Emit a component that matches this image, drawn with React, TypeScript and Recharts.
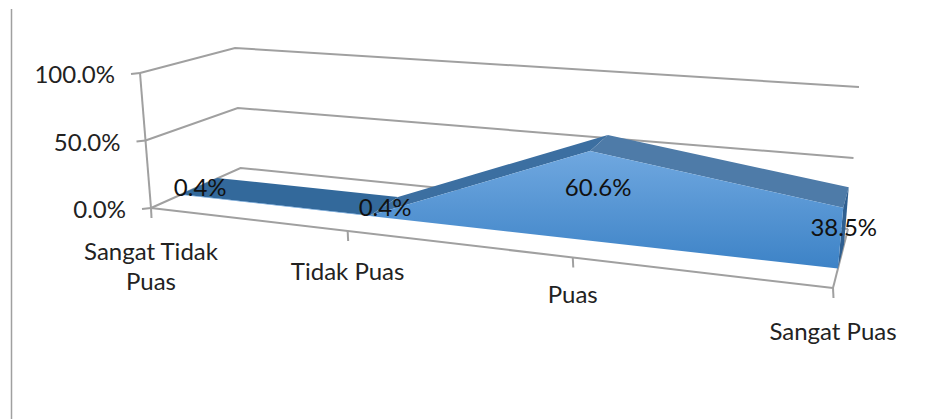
import { ComposedChart, Line, ReferenceLine, XAxis, YAxis } from "recharts";

const categories = ["Sangat Tidak Puas", "Tidak Puas", "Puas", "Sangat Puas"];
const values = [0.4, 0.4, 60.6, 38.5];
const valueLabels = ["0.4%", "0.4%", "60.6%", "38.5%"];
const yTicks = [0, 50, 100];
const yTickLabels = ["0.0%", "50.0%", "100.0%"];

const WIDTH = 952;
const HEIGHT = 419;
const GRID = "#a0a0a0";
const FONT = "Lato, Carlito, sans-serif";

// corners of the 3d box on the page, floor and ceiling, front and back
const box = {
  leftFront: [[151, 208], [140, 73]],
  leftBack: [[240.5, 168], [235, 48]],
  rightFront: [[833, 288], [848, 122]],
  rightBack: [[848, 229], [859, 87]],
};
const PERSPECTIVE = 1.234;
const AREA_FRONT = 0.33;
const AREA_BACK = 0.74;
const AREA_MID = 0.55;

const mix = (a: number, b: number, t: number) => a + (b - a) * t;

function corner(edgeFront: number[][], edgeBack: number[][], v: number, d: number, axis: number) {
  const floor = mix(edgeFront[0][axis], edgeBack[0][axis], d);
  const ceil = mix(edgeFront[1][axis], edgeBack[1][axis], d);
  return mix(floor, ceil, v / 100);
}

// category index, percent value, depth (0 front, 1 back) -> page point
function project(u: number, v: number, d: number) {
  const t = u / (categories.length - 1);
  const s = t / (t + PERSPECTIVE * (1 - t));
  const at = (axis: number) =>
    mix(
      corner(box.leftFront, box.leftBack, v, d, axis),
      corner(box.rightFront, box.rightBack, v, d, axis),
      s,
    );
  return { px: at(0), py: at(1) };
}

const last = categories.length - 1;

function polygon(name: string, pts: { px: number; py: number }[], fill: string) {
  return (
    <Line
      key={name}
      data={pts}
      dataKey="py"
      stroke="none"
      isAnimationActive={false}
      legendType="none"
      dot={(p: any) =>
        p.index === 0 ? (
          <polygon
            key={name}
            points={p.points.map((q: any) => `${q.x},${q.y}`).join(" ")}
            fill={fill}
          />
        ) : (
          <g key={`${name}-${p.index}`} />
        )
      }
    />
  );
}

function gridLine(name: string, pts: { px: number; py: number }[]) {
  return (
    <Line
      key={name}
      data={pts}
      dataKey="py"
      stroke={GRID}
      strokeWidth={2}
      dot={false}
      isAnimationActive={false}
      legendType="none"
    />
  );
}

function textAt(
  name: string,
  pts: { px: number; py: number; text: string }[],
  anchor: string,
  dy: number,
  color: string,
) {
  return (
    <Line
      key={name}
      data={pts}
      dataKey="py"
      stroke="none"
      dot={false}
      isAnimationActive={false}
      legendType="none"
      label={(p: any) => (
        <text
          key={`${name}-${p.index}`}
          x={p.x}
          y={p.y + dy}
          textAnchor={anchor as any}
          fontFamily={FONT}
          fontSize={24}
          fill={color}
        >
          {pts[p.index].text}
        </text>
      )}
    />
  );
}

const ribbonColors = ["#33699b", "#3c6fa1", "#4e7ba8"];

export default function App() {
  const walls = yTicks.map((v) =>
    gridLine(`wall-${v}`, [project(0, v, 0), project(0, v, 1), project(last, v, 1)]),
  );
  const yTickMarks = yTicks.map((v) => {
    const p = project(0, v, 0);
    return gridLine(`ytick-${v}`, [{ px: p.px - 9, py: p.py + 1 }, p]);
  });
  const xTickMarks = categories.map((_, i) => {
    const p = project(i, 0, 0);
    return gridLine(`xtick-${i}`, [p, { px: p.px + 0.5, py: p.py + 10 }]);
  });
  const ribbons = values.slice(1).map((v, i) =>
    polygon(
      `ribbon-${i}`,
      [
        project(i, values[i], AREA_FRONT),
        project(i, values[i], AREA_BACK),
        project(i + 1, v, AREA_BACK),
        project(i + 1, v, AREA_FRONT),
      ],
      ribbonColors[i],
    ),
  );
  const front = [
    ...values.map((v, i) => project(i, v, AREA_FRONT)),
    project(last, 0, AREA_FRONT),
    project(0, 0, AREA_FRONT),
  ];
  const side = [
    project(last, values[last], AREA_FRONT),
    project(last, values[last], AREA_BACK),
    project(last, 0, AREA_BACK),
    project(last, 0, AREA_FRONT),
  ];
  const yLabels = yTicks.map((v, i) => {
    const p = project(0, v, 0);
    return { px: p.px - 25, py: p.py, text: yTickLabels[i] };
  });
  const dataLabels = values.map((v, i) => ({
    ...project(i, v / 2, AREA_MID),
    text: valueLabels[i],
  }));
  const xLabels = [
    { ...project(0, 0, 0), text: "Sangat Tidak", dy: 52 },
    { ...project(0, 0, 0), text: "Puas", dy: 82 },
    { ...project(1, 0, 0), text: categories[1], dy: 49 },
    { ...project(2, 0, 0), text: categories[2], dy: 46 },
    { ...project(3, 0, 0), text: categories[3], dy: 52 },
  ].map((l) => ({ px: l.px, py: l.py + l.dy, text: l.text }));

  return (
    <div style={{ position: "absolute", left: 0, top: 0, width: WIDTH, height: HEIGHT }}>
      <ComposedChart width={WIDTH} height={HEIGHT} margin={{ top: 0, right: 0, bottom: 0, left: 0 }}>
        <defs>
          <linearGradient id="frontFill" gradientUnits="userSpaceOnUse" x1="0" y1="150" x2="0" y2="270">
            <stop offset="0%" stopColor="#70a8e0" />
            <stop offset="100%" stopColor="#3c82c6" />
          </linearGradient>
        </defs>
        <XAxis dataKey="px" type="number" domain={[0, WIDTH]} hide />
        <YAxis type="number" domain={[0, HEIGHT]} reversed hide />
        <ReferenceLine
          segment={[
            { x: 11.5, y: 9 },
            { x: 11.5, y: HEIGHT },
          ]}
          stroke={GRID}
          strokeWidth={1.5}
        />
        {walls}
        {gridLine("left-edge", [project(0, 0, 0), project(0, 100, 0)])}
        {gridLine("floor-front", [project(0, 0, 0), project(last, 0, 0)])}
        {gridLine("floor-right", [project(last, 0, 0), project(last, 0, 1)])}
        {yTickMarks}
        {xTickMarks}
        {ribbons}
        {polygon("side", side, "#2f5f90")}
        {polygon("front", front, "url(#frontFill)")}
        {textAt("y-labels", yLabels, "end", 10, "#222222")}
        {textAt("x-labels", xLabels, "middle", 0, "#222222")}
        {textAt("data-labels", dataLabels, "middle", 10, "#111111")}
      </ComposedChart>
    </div>
  );
}
